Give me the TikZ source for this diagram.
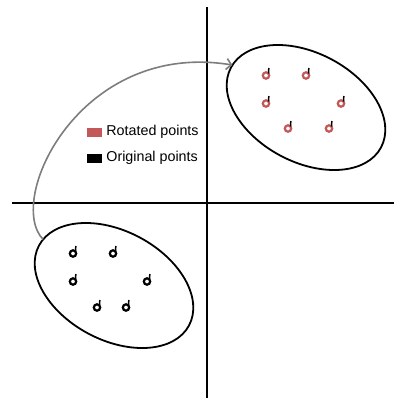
\documentclass[tikz,border=0pt]{standalone}
\usepackage{fontspec}
\setmainfont{Liberation Sans}
\usepackage{xcolor}
\usepackage{tikz}
\usetikzlibrary{positioning, shapes.geometric, arrows.meta}

\definecolor{rotred}{RGB}{196,88,88}
\definecolor{arrowgray}{RGB}{125,125,125}

\begin{document}
\begin{tikzpicture}[
    x=1pt, y=-1pt,
    blob/.style={
        draw, ellipse, line width=1.8pt,
        minimum width=170pt, minimum height=109pt,
        inner sep=0pt, outer sep=0pt, rotate=-28
    },
    axis/.style={line width=1.8pt},
    arrow/.style={-{Straight Barb[length=5pt, width=11pt]}, line width=1.6pt, draw=arrowgray},
    swatch/.style={rectangle, minimum width=15pt, minimum height=9pt, inner sep=0pt},
    keytext/.style={inner sep=0pt, font=\fontsize{14.3}{16}\selectfont},
    ptmark/.pic={
        \draw[pic actions, line width=2.2pt] (0,0.5) circle[radius=3.2];
        \draw[black, line width=1.5pt] (2.6,-1.5) -- (2.8,-7);
    }
]
\useasboundingbox (0,0) rectangle (396,400);

% axes
\draw[axis] (207,7) -- (207,398);
\draw[axis] (12,203) -- (394,203);

% the two point clouds
\node[blob] (orig) at (114,285.5) {};
\node[blob] (rot) at (306,107.5) {};

\foreach \p in {(73,253),(113,253),(73,281),(147,281),(97,307),(126,307)}
    \pic[draw=black] at \p {ptmark};
\foreach \p in {(266,75),(306,75),(266,103),(341,103),(288,128),(329,128)}
    \pic[draw=rotred] at \p {ptmark};

% rotation
\draw[arrow] (orig.175) .. controls (5,200) and (80,40) .. (rot.178);

% legend
\node[swatch, fill=rotred] (rotkey) at (94.5,132) {};
\node[keytext, right=4pt of rotkey] (rottxt) {Rotated points};
\node[swatch, fill=black] (origkey) at (94.5,158) {};
\node[keytext, right=4pt of origkey] (origtxt) {Original points};

\end{tikzpicture}
\end{document}
